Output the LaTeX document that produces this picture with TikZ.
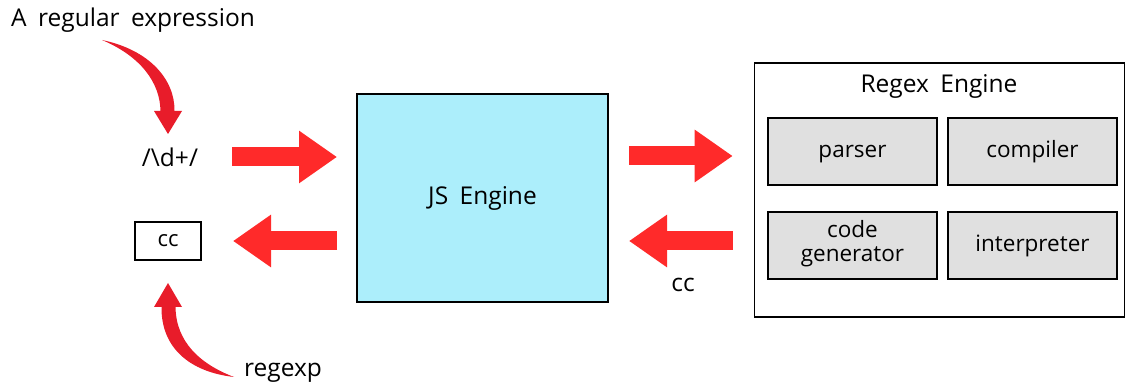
\documentclass[tikz,border=0pt]{standalone}
\usepackage{fontspec}
\setmainfont{Open Sans}[WordSpace=1.8]
\usetikzlibrary{arrows.meta}
\definecolor{jsfill}{HTML}{ACEEFB}
\definecolor{boxgray}{HTML}{E0E0E0}
\definecolor{arrred}{HTML}{FF2A2A}
\definecolor{curvred}{HTML}{E81C2A}
\tikzset{
  lbl/.style={inner sep=0pt, font=\fontsize{24.5}{26}\selectfont},
  part/.style={draw=black, line width=2pt, fill=boxgray, minimum width=169pt, minimum height=67pt, inner sep=0pt, align=center, font=\fontsize{22.5}{24}\selectfont, text height=17pt, text depth=5pt},
  fat/.style={draw=arrred, line width=19pt, -{Triangle[length=38pt,width=50pt]}},
}
\begin{document}
\begin{tikzpicture}[x=1pt,y=-1pt]
\useasboundingbox (0,0) rectangle (1125,387);
% labels
\node[lbl] (title) at (133,20) {A regular expression};
\node[lbl] (re) at (170,157) {/\textbackslash d+/};
\node[draw, line width=2pt, minimum width=66pt, minimum height=38pt, inner sep=0pt, font=\fontsize{22}{22}\selectfont] (ccbox) at (168,241) {cc};
\node[lbl] (regexp) at (283,373) {regexp};
% JS engine
\node[draw, line width=2pt, fill=jsfill, minimum width=251pt, minimum height=208pt, inner sep=0pt, font=\fontsize{24.5}{26}\selectfont] (js) at (482.5,198) {JS Engine};
% Regex engine
\node[draw, line width=1.6pt, fill=white, minimum width=370pt, minimum height=254pt, inner sep=0pt] (rx) at (939.5,190) {};
\node[lbl] (rxt) at (939,86) {Regex Engine};
\node[part] (parser) at (852.5,152) {parser};
\node[part] (compiler) at (1032.5,152) {compiler};
\node[part, text height=38pt, text depth=5pt] (codegen) at (852.5,245.5) {code\\generator};
\node[part] (interp) at (1032.5,245.5) {interpreter};
\node[lbl] (cc2) at (683,285) {cc};
% coordinates for fat arrows
\coordinate (a1s) at (232,157);
\coordinate (a1e) at ([xshift=-19pt]js.west |- a1s);
\coordinate (a2s) at ([xshift=-19pt]js.west |- ccbox);
\coordinate (a2e) at (233,241);
\coordinate (a3s) at ([xshift=20pt]js.east |- 0,156);
\coordinate (a3e) at ([xshift=-21pt]rx.west |- a3s);
\coordinate (a4s) at ([xshift=-21pt]rx.west |- 0,241);
\coordinate (a4e) at ([xshift=20pt]js.east |- a4s);
\draw[fat] (a1s) -- (a1e);
\draw[fat] (a2s) -- (a2e);
\draw[fat] (a3s) -- (a3e);
\draw[fat] (a4s) -- (a4e);
% curved arrows
\coordinate (t1) at (102,40);
\coordinate (h1) at (168,134);
\fill[curvred] (t1) .. controls (150,50) and (175,80) .. (174.5,111)
  -- (182,111) -- (h1) -- (154,111) -- (160.5,111)
  .. controls (160,82) and (140,56) .. (t1) -- cycle;
\coordinate (t2) at (234,377);
\coordinate (h2) at (168,283);
\fill[curvred] (h2) -- (182,307) -- (175.5,307)
  .. controls (176,342) and (200,364) .. (t2)
  .. controls (190,372) and (161,348) .. (161.5,307)
  -- (154,307) -- cycle;
\end{tikzpicture}
\end{document}
